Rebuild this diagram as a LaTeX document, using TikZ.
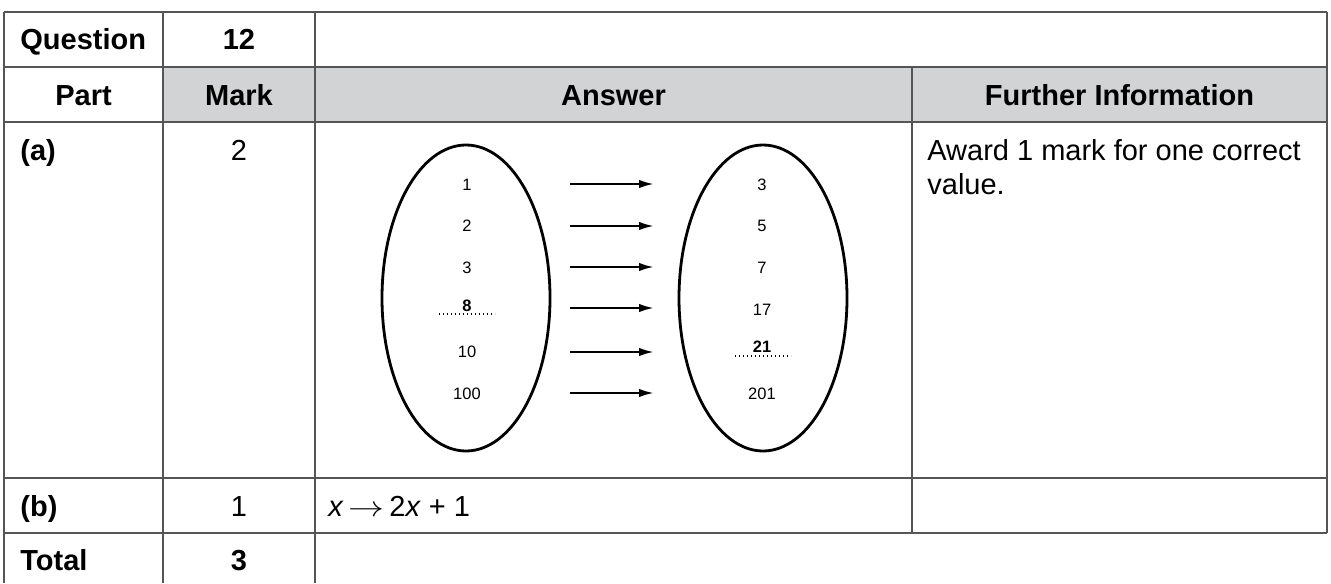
\documentclass[tikz,border=0pt]{standalone}
\usepackage{fontspec}
\setmainfont{Liberation Sans}
\usetikzlibrary{arrows.meta,shapes.geometric}
\definecolor{headgray}{RGB}{209,211,212}
\definecolor{rulegray}{RGB}{85,85,85}
\newcommand{\qBig}{\fontsize{14.5pt}{17.25pt}\selectfont}
\newcommand{\qSmall}{\fontsize{8.25pt}{10pt}\selectfont}

\begin{document}
\begin{tikzpicture}[x=0.5pt,y=-0.5pt,
  cell/.style={anchor=base, inner sep=0pt, font=\qBig},
  hcell/.style={anchor=base, inner sep=0pt, font=\qBig\bfseries},
  num/.style={anchor=base, inner sep=0pt, font=\qSmall},
  rule/.style={draw=rulegray, line width=1pt},
  setoval/.style={draw, ellipse, line width=1.4pt, minimum width=84pt, minimum height=153pt, inner sep=0pt},
  maparrow/.style={line width=1.4pt, -{Latex[length=8pt,width=4.2pt]}},
  gapline/.style={dash pattern=on 0.6pt off 1.4pt, line width=0.6pt}]
\useasboundingbox (0,0) rectangle (1331,583);
\fill[headgray] (163,67) rectangle (1327,122);
\draw[rule] (4,12) -- (1327,12);
\draw[rule] (4,67) -- (1327,67);
\draw[rule] (4,122) -- (1327,122);
\draw[rule] (4,478) -- (1327,478);
\draw[rule] (4,533) -- (1327,533);
\draw[rule] (4,12) -- (4,583);
\draw[rule] (163,12) -- (163,583);
\draw[rule] (315,12) -- (315,583);
\draw[rule] (912,67) -- (912,533);
\draw[rule] (1327,12) -- (1327,533);
\node[hcell, anchor=base west] (qLabel) at (20,50) {Question};
\node[hcell] (qNumber) at (239,50) {12};
\node[hcell] (hPart) at (83.5,105) {Part};
\node[hcell] (hMark) at (239,105) {Mark};
\node[hcell] (hAnswer) at (613.5,105) {Answer};
\node[hcell] (hInfo) at (1119.5,105) {Further Information};
\node[hcell, anchor=base west] (partA) at (20,160) {(a)};
\node[cell] (markA) at (239,160) {2};
\node[cell, anchor=base west] (infoA) at (927,160) {Award 1 mark for one correct};
\node[cell, anchor=base west] (infoB) at (927,194.5) {value.};
\node[hcell, anchor=base west] (partB) at (20,516) {(b)};
\node[cell] (markB) at (239,516) {1};
\node[cell, anchor=base west] (ansB) at (328,516) {\textit{x}\,\scalebox{1.25}[1]{$\rightarrow$}\,2\textit{x} + 1};
\node[hcell, anchor=base west] (tLabel) at (20,570) {Total};
\node[hcell] (tMark) at (239,570) {3};
\node[setoval] (domain) at (466,298) {};
\node[setoval] (range) at (763,298) {};
\node[num] (d1) at (467,190) {1};
\node[num] (d2) at (467,231) {2};
\node[num] (d3) at (467,273) {3};
\node[num, font=\qSmall\bfseries] (d4) at (467,311) {8};
\node[num] (d5) at (467,357) {10};
\node[num] (d6) at (467,399) {100};
\node[num] (r1) at (762,190) {3};
\node[num] (r2) at (762,231) {5};
\node[num] (r3) at (762,273) {7};
\node[num] (r4) at (762,315) {17};
\node[num, font=\qSmall\bfseries] (r5) at (762,352) {21};
\node[num] (r6) at (762,399) {201};
\coordinate (dotL1) at (439,314);
\coordinate (dotL2) at (495,314);
\coordinate (dotR1) at (735,356);
\coordinate (dotR2) at (791,356);
\draw[gapline] (dotL1) -- (dotL2);
\draw[gapline] (dotR1) -- (dotR2);
\coordinate (s1) at (570,184);
\coordinate (t1) at (655,184);
\coordinate (s2) at (570,226);
\coordinate (t2) at (655,226);
\coordinate (s3) at (570,267);
\coordinate (t3) at (655,267);
\coordinate (s4) at (570,308);
\coordinate (t4) at (655,308);
\coordinate (s5) at (570,352);
\coordinate (t5) at (655,352);
\coordinate (s6) at (570,393);
\coordinate (t6) at (655,393);
\draw[maparrow] (s1) -- (t1);
\draw[maparrow] (s2) -- (t2);
\draw[maparrow] (s3) -- (t3);
\draw[maparrow] (s4) -- (t4);
\draw[maparrow] (s5) -- (t5);
\draw[maparrow] (s6) -- (t6);
\end{tikzpicture}
\end{document}
